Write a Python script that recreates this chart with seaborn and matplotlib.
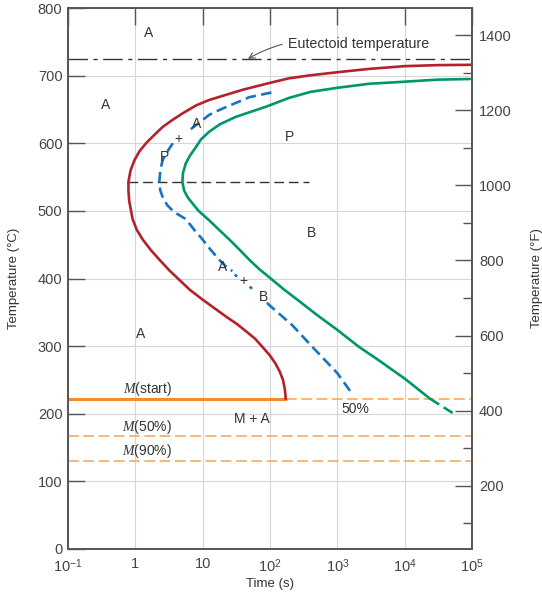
import numpy as np
import pandas as pd
import seaborn as sns
import matplotlib.pyplot as plt

# --- data (time in s, temperature in degC) ---
start_time = [1e5, 3e4, 1e4, 3e3, 1e3, 400, 191, 97, 39, 12.5, 8, 5.0, 3.5, 2.54, 1.9,
              1.44, 1.15, 0.97, 0.85, 0.79, 0.79, 0.81, 0.91, 1.05, 1.28, 1.7, 2.27, 3.2,
              4.5, 6.5, 9.9, 15, 22, 32, 44, 60, 77, 100, 121, 140, 156, 166, 170, 171]
start_temp = [716, 715.5, 714, 710, 705, 700.5, 696, 689, 679, 664, 656, 644, 634, 624, 612,
              600, 588, 575, 560, 543, 530, 515, 488, 472, 458, 442, 428, 412,
              398, 383, 369, 356, 344, 333, 322, 311, 299, 286, 274, 262, 250, 236, 227, 222]

finish_time = [9.3e4, 3e4, 1e4, 3e3, 1e3, 400, 191, 87, 31, 18, 12.5, 9.5, 7.9, 6.5, 5.6,
               5.1, 5.0, 5.3, 6.0, 7.2, 8.7, 12.5, 17.5, 24.7, 35, 49, 69, 97, 160, 260,
               500, 1000, 2090, 4000, 1e4, 2.4e4]
finish_temp = [695, 694, 691, 688, 682, 676, 667, 654, 639, 628, 617, 606, 594, 582, 570,
               556, 543, 530, 520, 510, 500, 486, 472, 458, 443, 428, 414, 402, 384, 368,
               346, 324, 299, 280, 252, 222]
finish_low_time = [2.4e4, 6.0e4]
finish_low_temp = [222, 197]

half_time = [[105, 75, 49, 30, 17.5, 12.5, 9.9, 6.3],
             [3.6, 3.0, 2.54, 2.35, 2.27, 2.35, 2.6, 3.0, 3.8, 5.6, 7.5, 9.9, 13, 17.5, 22, 27.6],
             [30, 33], [50, 55],
             [90, 102, 214, 425, 1000, 1700]]
half_temp = [[675, 672, 668, 659, 649, 642, 634, 619],
             [600, 588, 575, 560, 543, 530, 518, 508, 498, 488, 472, 458, 443, 428, 418, 411],
             [406, 402], [388, 384],
             [364, 359, 331, 299, 260, 228]]

eutectoid = 725
nose_line_temp = 543
nose_line_time = [0.79, 380]
ms_temp, m50_temp, m90_temp = 222, 167, 130
ms_end_time = 171

region_labels = [(1.6, 763, 'A'), (0.36, 657, 'A'), (8.0, 629, 'A'), (4.3, 606, '+'),
                 (2.7, 579, 'P'), (198, 609, 'P'), (420, 467, 'B'), (19.5, 417, 'A'),
                 (40, 396, '+'), (79, 373, 'B'), (1.21, 318, 'A'), (54, 192, 'M + A'),
                 (1860, 207, '50%')]
m_labels = [(1.5, 237, r'$M$(start)'), (1.5, 180, r'$M$(50%)'), (1.5, 145, r'$M$(90%)')]

xticks = [0.1, 1, 10, 100, 1e3, 1e4, 1e5]
xtick_labels = [r'$10^{-1}$', '1', '10', r'$10^2$', r'$10^3$', r'$10^4$', r'$10^5$']

# --- style ---
sns.set_style('white')
plt.rcParams['font.family'] = ['Liberation Sans', 'DejaVu Sans']
plt.rcParams['mathtext.fontset'] = 'custom'
plt.rcParams['mathtext.rm'] = 'Liberation Sans'
plt.rcParams['mathtext.it'] = 'Liberation Serif:italic'
plt.rcParams['text.color'] = '#333333'

red = '#b3222c'
green = '#00966b'
blue = '#1873c3'
orange = '#f58a2c'
orange_l = '#f8a254'
grey = '#555555'

fig = plt.figure(figsize=(5.42, 5.97), dpi=100)
ax = fig.add_axes([68 / 542, 48 / 597, 404 / 542, 541 / 597])
ax.set_xscale('log')
ax.set_xlim(0.1, 1e5)
ax.set_ylim(0, 800)

# grid
ax.set_xticks(xticks)
ax.set_yticks(range(0, 801, 100))
ax.grid(True, color='#d6d6d6', lw=0.8)
ax.set_axisbelow(True)

# reference lines
ax.axhline(eutectoid, color='#333333', lw=1.0, linestyle=(0, (14, 4, 3, 4)))
sns.lineplot(x=nose_line_time, y=[nose_line_temp] * 2, ax=ax, color='#333333', lw=1.0,
             linestyle=(0, (7, 3.5)), sort=False, estimator=None)

# martensite lines
sns.lineplot(x=[0.1, ms_end_time], y=[ms_temp] * 2, ax=ax, color=orange, lw=2.2,
             sort=False, estimator=None)
sns.lineplot(x=[ms_end_time, 1e5], y=[ms_temp] * 2, ax=ax, color=orange_l, lw=1.1,
             linestyle=(0, (7, 3)), sort=False, estimator=None)
for T in (m50_temp, m90_temp):
    sns.lineplot(x=[0.1, 1e5], y=[T] * 2, ax=ax, color=orange_l, lw=1.1,
                 linestyle=(0, (7, 3)), sort=False, estimator=None)

# transformation curves
sns.lineplot(x=start_time, y=start_temp, ax=ax, color=red, lw=1.9, sort=False, estimator=None)
sns.lineplot(x=finish_time, y=finish_temp, ax=ax, color=green, lw=1.9, sort=False, estimator=None)
sns.lineplot(x=finish_low_time, y=finish_low_temp, ax=ax, color=green, lw=1.9,
             linestyle=(0, (4, 2)), sort=False, estimator=None)
for tt, TT in zip(half_time, half_temp):
    ls = (0, (4, 2)) if len(tt) > 2 else (0, (1.2, 1.5))
    sns.lineplot(x=tt, y=TT, ax=ax, color=blue, lw=1.9, linestyle=ls, sort=False, estimator=None)

# labels
for t, T, s in region_labels:
    ax.text(t, T, s, ha='center', va='center', fontsize=10, color='#333333')
for t, T, s in m_labels:
    ax.text(t, T, s, ha='center', va='center', fontsize=10, color='#333333')

ax.annotate('Eutectoid temperature', xy=(47, eutectoid), xytext=(186, 747),
            ha='left', va='center', fontsize=10.3, color='#333333',
            arrowprops=dict(arrowstyle='->', color='#555555', lw=0.8,
                            connectionstyle='arc3,rad=0.2', shrinkA=2, shrinkB=0))

# axes cosmetics
ax.set_xticklabels(xtick_labels)
ax.minorticks_off()
ax.tick_params(axis='both', which='major', direction='in', length=12, width=1,
               color=grey, labelsize=10.5, labelcolor='#444444', top=True, pad=4)
ax.tick_params(axis='x', pad=6)
for sp in ax.spines.values():
    sp.set_color(grey)
    sp.set_linewidth(1.2)
ax.set_xlabel('Time (s)', fontsize=9.5, color='#333333', labelpad=2)
ax.set_ylabel('Temperature (\u00b0C)', fontsize=9.5, color='#333333', labelpad=13)

# Fahrenheit axis
ax2 = ax.twinx()
ax2.set_ylim(32, 800 * 9 / 5 + 32)
ax2.set_yticks(range(200, 1401, 200))
ax2.set_yticks(range(100, 1400, 200), minor=True)
ax2.tick_params(axis='y', which='major', direction='in', length=12, width=1, color=grey,
                labelsize=10.5, labelcolor='#444444', pad=5)
ax2.tick_params(axis='y', which='minor', direction='in', length=6.5, width=1, color=grey)
ax2.set_ylabel('Temperature (\u00b0F)', fontsize=9.5, color='#333333', labelpad=14)
for sp in ax2.spines.values():
    sp.set_color(grey)
    sp.set_linewidth(1.2)

fig.savefig('out.png', dpi=100)
